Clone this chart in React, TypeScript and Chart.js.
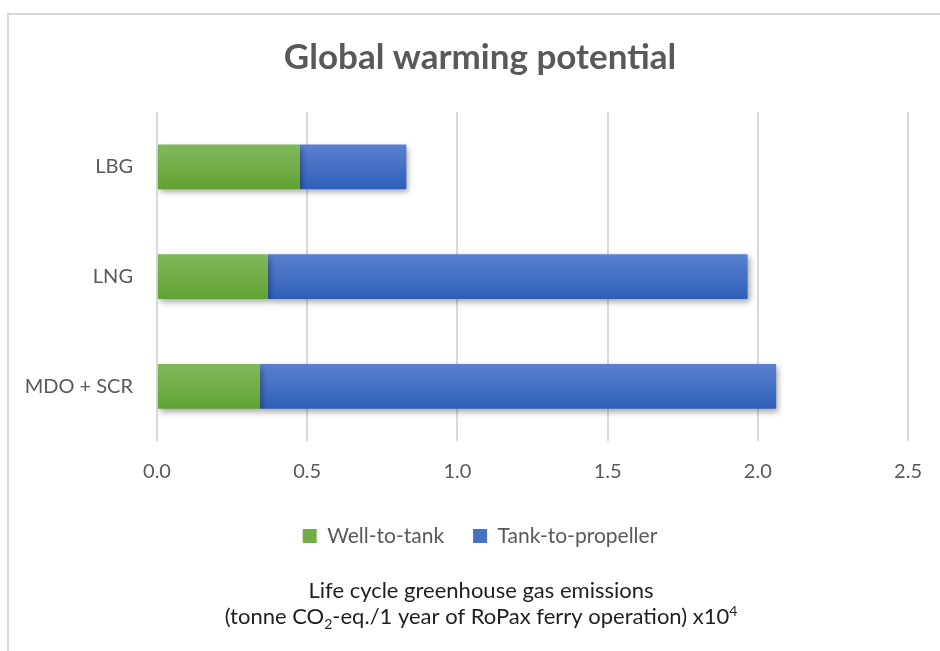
import React, { useEffect, useRef } from "react";
import { Chart, registerables } from "chart.js";

Chart.register(...registerables);

const categories = ["LBG", "LNG", "MDO + SCR"];
const wellToTank = [0.476, 0.369, 0.343];
const tankToPropeller = [0.354, 1.597, 1.718];
const xTicks = [0, 0.5, 1.0, 1.5, 2.0, 2.5];
const seriesNames = ["Well-to-tank", "Tank-to-propeller"];
const titleText = "Global warming potential";
const axisTitleLine1 = "Life cycle greenhouse gas emissions";

const FONT = "Lato, 'Open Sans', sans-serif";
const BAR_PCT = 0.407;

function gradientFill(top: string, bottom: string, solid: string) {
  return (ctx: any) => {
    const chart = ctx.chart;
    const y = chart.scales && chart.scales.y;
    if (!y || !chart.chartArea || ctx.dataIndex === undefined || ctx.type !== "data") return solid;
    const c = y.getPixelForValue(ctx.dataIndex);
    const step = Math.abs(y.getPixelForValue(1) - y.getPixelForValue(0));
    const h = step * BAR_PCT;
    const g = chart.ctx.createLinearGradient(0, c - h / 2, 0, c + h / 2);
    g.addColorStop(0, top);
    g.addColorStop(1, bottom);
    return g;
  };
}

const framePlugin = {
  id: "frame",
  beforeDraw(chart: any) {
    const { ctx, width, height } = chart;
    ctx.save();
    ctx.fillStyle = "#ffffff";
    ctx.fillRect(0, 0, width, height);
    ctx.strokeStyle = "#d9d9d9";
    ctx.lineWidth = 2;
    ctx.strokeRect(8, 14, width + 20, height + 20);
    ctx.restore();
  },
};

const shadowPlugin = {
  id: "barShadow",
  beforeDatasetsDraw(chart: any) {
    const ctx = chart.ctx;
    ctx.save();
    ctx.shadowColor = "rgba(0,0,0,0.35)";
    ctx.shadowBlur = 6;
    ctx.shadowOffsetX = 2;
    ctx.shadowOffsetY = 3;
  },
  afterDatasetsDraw(chart: any) {
    chart.ctx.restore();
  },
};

const axisTitlePlugin = {
  id: "axisTitle",
  afterDraw(chart: any) {
    const ctx = chart.ctx;
    const cx = 481;
    const size = 22;
    ctx.save();
    ctx.fillStyle = "#1f1f1f";
    ctx.textBaseline = "alphabetic";
    ctx.textAlign = "left";
    ctx.font = `${size}px ${FONT}`;
    const w1 = ctx.measureText(axisTitleLine1).width;
    ctx.fillText(axisTitleLine1, cx - w1 / 2, 598);
    const parts: [string, string][] = [
      ["(tonne CO", "n"],
      ["2", "sub"],
      ["-eq./1 year of RoPax ferry operation) x10", "n"],
      ["4", "sup"],
    ];
    const small = `${Math.round(size * 0.65)}px ${FONT}`;
    const normal = `${size}px ${FONT}`;
    let total = 0;
    for (const [t, k] of parts) {
      ctx.font = k === "n" ? normal : small;
      total += ctx.measureText(t).width;
    }
    let x = cx - total / 2;
    const y2 = 624;
    for (const [t, k] of parts) {
      ctx.font = k === "n" ? normal : small;
      const dy = k === "sub" ? 5 : k === "sup" ? -8 : 0;
      ctx.fillText(t, x, y2 + dy);
      x += ctx.measureText(t).width;
    }
    ctx.restore();
  },
};

export default function App() {
  const ref = useRef<HTMLCanvasElement | null>(null);
  useEffect(() => {
    if (!ref.current) return;
    const chart = new Chart(ref.current, {
      type: "bar",
      data: {
        labels: categories,
        datasets: [
          {
            label: seriesNames[0],
            data: wellToTank,
            backgroundColor: gradientFill("#80b95d", "#62a233", "#70AD47"),
            borderWidth: 0,
            barPercentage: BAR_PCT,
            categoryPercentage: 1,
          },
          {
            label: seriesNames[1],
            data: tankToPropeller,
            backgroundColor: gradientFill("#5b81d0", "#2e5fb8", "#4472C4"),
            borderWidth: 0,
            barPercentage: BAR_PCT,
            categoryPercentage: 1,
          },
        ],
      },
      options: {
        indexAxis: "y",
        animation: false,
        responsive: false,
        maintainAspectRatio: false,
        layout: { padding: { left: 20, right: 0, top: 0, bottom: 94.4 } },
        scales: {
          x: {
            stacked: true,
            min: 0,
            max: 2.5,
            afterBuildTicks: (s: any) => {
              s.ticks = xTicks.map((v) => ({ value: v }));
            },
            afterFit: (s: any) => {
              s.height = 55.4;
            },
            grid: { color: "#d9d9d9", lineWidth: 2, drawTicks: false },
            border: { display: false },
            ticks: {
              padding: 18,
              color: "#595959",
              font: { family: FONT, size: 20 },
              callback: (v: any) => Number(v).toFixed(1),
            },
          },
          y: {
            stacked: true,
            afterFit: (s: any) => {
              s.width = 137;
            },
            grid: { display: false, drawTicks: false },
            border: { display: false },
            ticks: {
              padding: 24,
              color: "#595959",
              font: { family: FONT, size: 20 },
            },
          },
          yRight: {
            type: "category",
            position: "right",
            display: true,
            afterFit: (s: any) => {
              s.width = 31;
            },
            grid: { display: false, drawTicks: false },
            border: { display: false },
            ticks: { display: false },
          },
        },
        plugins: {
          title: {
            display: true,
            text: titleText,
            color: "#595959",
            font: { family: FONT, size: 35, weight: "bold" },
            padding: { top: 36.5, bottom: 33.5 },
          },
          legend: {
            position: "bottom",
            labels: {
              boxWidth: 14,
              boxHeight: 14,
              padding: 29,
              color: "#595959",
              font: { family: FONT, size: 21 },
              generateLabels: (c: any) =>
                c.data.datasets.map((d: any, i: number) => ({
                  text: d.label,
                  fillStyle: i === 0 ? "#70AD47" : "#4472C4",
                  strokeStyle: i === 0 ? "#70AD47" : "#4472C4",
                  lineWidth: 0,
                  hidden: false,
                  datasetIndex: i,
                  fontColor: "#595959",
                })),
            },
          },
          tooltip: { enabled: false },
        },
      },
      plugins: [framePlugin, shadowPlugin, axisTitlePlugin],
    } as any);
    return () => chart.destroy();
  }, []);
  return (
    <div style={{ position: "fixed", left: 0, top: 0, width: 940, height: 651 }}>
      <canvas ref={ref} width={940} height={651} style={{ width: 940, height: 651 }} />
    </div>
  );
}
